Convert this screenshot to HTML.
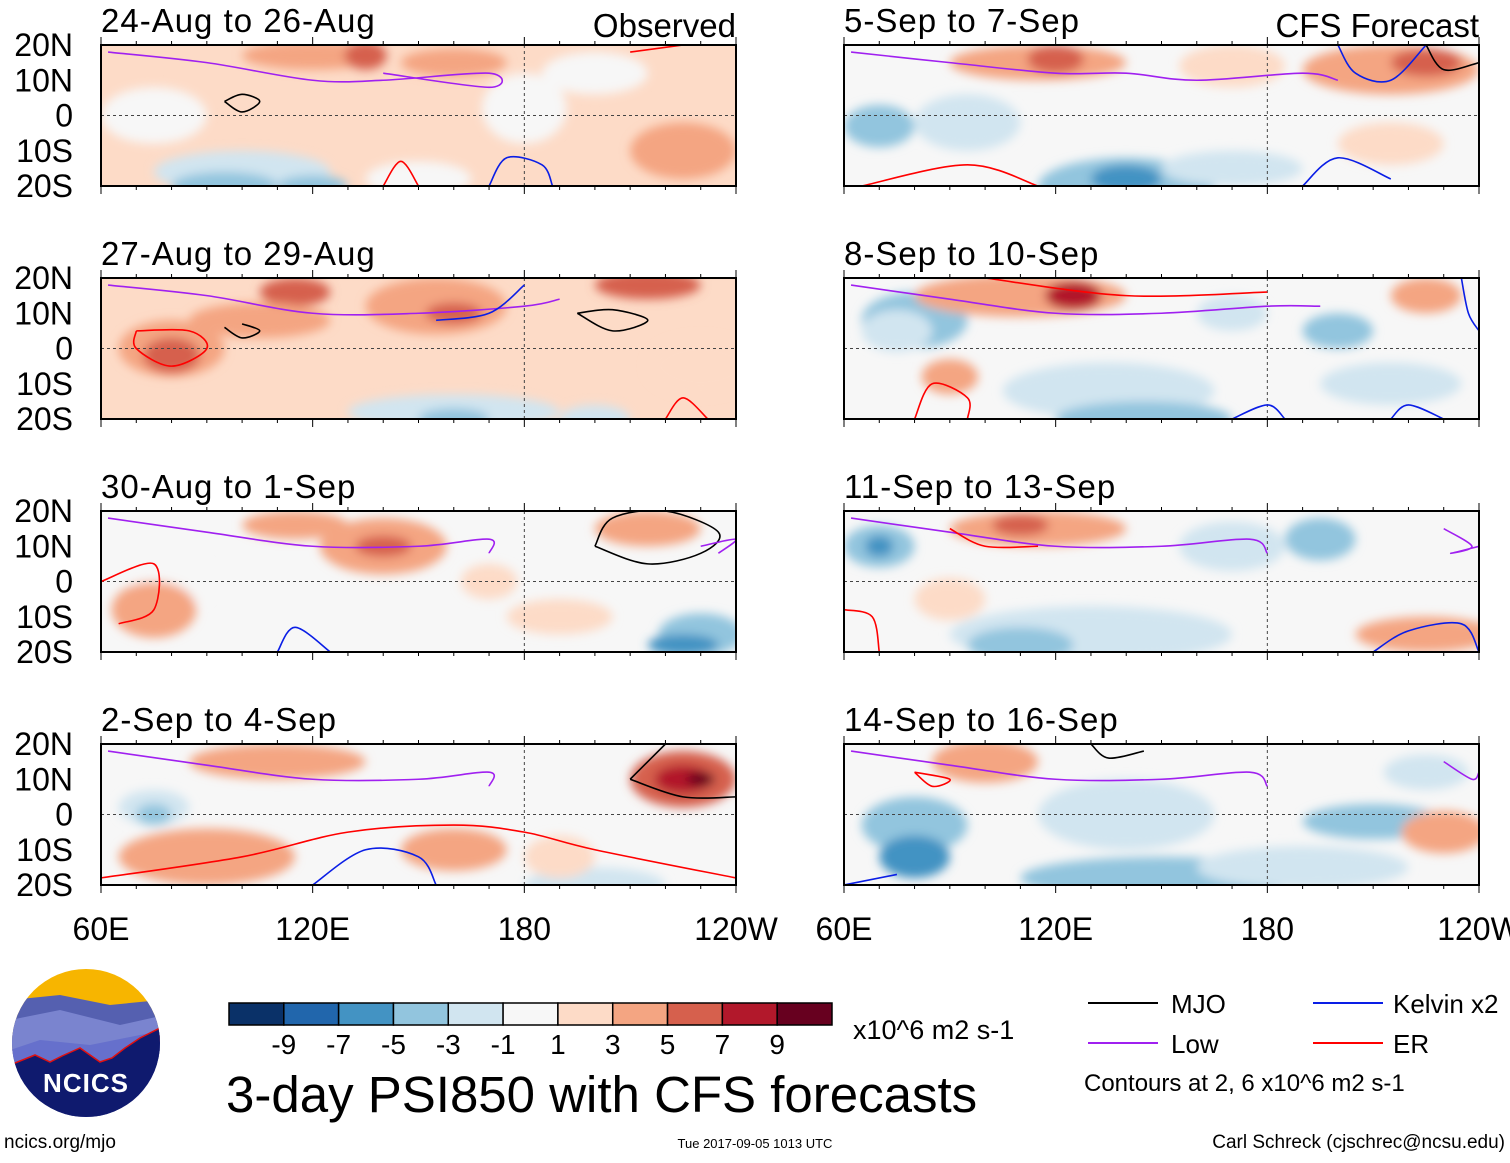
<!DOCTYPE html>
<html><head><meta charset="utf-8"><style>
body{margin:0;background:#fff;width:1510px;height:1158px;overflow:hidden;font-family:"Liberation Sans",sans-serif}
svg text{font-family:"Liberation Sans",sans-serif}
</style></head><body>
<svg id="root" width="1510" height="1158" viewBox="0 0 1510 1158" xmlns="http://www.w3.org/2000/svg">
<defs>
<filter id="blur" x="-50%" y="-50%" width="200%" height="200%"><feGaussianBlur stdDeviation="5"/></filter>
<clipPath id="logoClip"><circle cx="86" cy="1043" r="74"/></clipPath>
</defs>
<g id="panels"></g>
<g id="logo">
<g clip-path="url(#logoClip)">
<rect x="10" y="965" width="155" height="160" fill="#f7b500"/>
<path d="M10 1000 L60 995 L110 1005 L160 1000 L165 1125 L10 1125Z" fill="#5560b0"/>
<path d="M10 1020 L60 1010 L120 1025 L165 1015 L165 1125 L10 1125Z" fill="#7a84cf"/>
<path d="M10 1050 L40 1040 L90 1045 L165 1030 L165 1125 L10 1125Z" fill="#6670cc"/>
<path d="M10 1065 L35 1055 L50 1062 L62 1056 L80 1048 L100 1062 L112 1058 L125 1048 L140 1038 L160 1028 L165 1125 L10 1125Z" fill="#0f1a6e" stroke="#e01010" stroke-width="1.5"/>
</g>
<text x="86" y="1092" font-size="26" font-weight="bold" fill="#fff" text-anchor="middle" letter-spacing="1">NCICS</text>
</g>
<text x="4" y="1148" font-size="19">ncics.org/mjo</text>
<g id="colorbar"></g>
<text x="853" y="1039" font-size="27">x10^6 m2 s-1</text>
<text x="226" y="1112" font-size="51">3-day PSI850 with CFS forecasts</text>
<text x="755" y="1148" font-size="13" text-anchor="middle">Tue 2017-09-05 1013 UTC</text>
<text x="1505" y="1148" font-size="19" text-anchor="end">Carl Schreck (cjschrec@ncsu.edu)</text>
<g>
<line x1="1088" y1="1003" x2="1158" y2="1003" stroke="#000" stroke-width="2"/><text x="1171" y="1013" font-size="26">MJO</text>
<line x1="1313" y1="1003" x2="1383" y2="1003" stroke="#0a1ee6" stroke-width="2"/><text x="1393" y="1013" font-size="26">Kelvin x2</text>
<line x1="1088" y1="1043" x2="1158" y2="1043" stroke="#a020f0" stroke-width="2"/><text x="1171" y="1053" font-size="26">Low</text>
<line x1="1313" y1="1043" x2="1383" y2="1043" stroke="#f00" stroke-width="2"/><text x="1393" y="1053" font-size="26">ER</text>
<text x="1084" y="1091" font-size="24">Contours at 2, 6 x10^6 m2 s-1</text>
</g>
</svg>
<script>
const levels=[-9,-7,-5,-3,-1,1,3,5,7,9];
const colors=["#0a3168","#2166ac","#4393c3","#92c5de","#d1e5f0","#f7f7f7","#fddbc7","#f4a582","#d6604d","#b2182b","#67001f"];
const titles=["24-Aug to 26-Aug","5-Sep to 7-Sep","27-Aug to 29-Aug","8-Sep to 10-Sep","30-Aug to 1-Sep","11-Sep to 13-Sep","2-Sep to 4-Sep","14-Sep to 16-Sep"];
const latTicks=["20N","10N","0","10S","20S"];
const lonTicks=["60E","120E","180","120W"];
const baseLevel=[6,5,6,5,5,5,5,5];
// blobs: [lon, lat, rxDeg, ryDeg, colorIndex]
const blobs=[
[[75,0,15,8,5],[100,-16,25,6,4],[150,-18,15,5,5],[180,2,12,10,5],[200,12,15,6,5],[225,-10,15,8,7],[120,17,20,4,7],[135,17,6,4,8],[160,15,15,4,7],[95,-20,15,4,3],[120,-20,10,3,3]],
[[70,-3,10,6,3],[95,-2,15,8,4],[115,15,25,5,7],[120,16,8,4,8],[140,-20,25,8,3],[140,-18,10,4,2],[170,-15,20,5,4],[215,13,25,7,7],[225,15,10,4,8],[170,14,15,6,6],[215,-8,15,6,6]],
[[80,0,15,8,7],[80,-2,8,5,8],[115,16,10,4,8],[105,8,20,5,7],[155,12,20,8,7],[160,10,8,3,8],[215,18,15,4,8],[160,-18,30,5,4],[160,-20,10,3,3],[200,-20,10,4,4],[230,-5,15,8,6]],
[[80,8,15,8,3],[110,15,30,6,7],[125,15,8,4,9],[75,5,10,6,4],[135,-12,30,8,4],[145,-20,25,5,3],[90,-8,8,5,7],[170,10,10,5,4],[200,5,10,5,3],[225,15,10,5,7],[215,-10,20,6,4]],
[[80,0,12,8,5],[75,-8,12,8,7],[140,10,18,8,7],[140,10,8,3,8],[115,16,15,4,7],[215,15,15,5,7],[230,-15,12,6,3],[225,-18,10,3,2],[170,0,8,5,6],[190,-10,15,5,6]],
[[70,10,10,6,3],[70,10,4,3,2],[115,15,25,5,7],[110,16,8,3,8],[130,-15,40,8,4],[110,-18,15,5,3],[170,10,15,7,4],[195,12,10,6,3],[225,-15,20,5,7],[90,-5,10,6,6]],
[[75,2,10,5,4],[75,0,5,3,3],[110,15,25,5,7],[225,10,15,8,8],[225,10,8,4,9],[230,10,4,2,10],[90,-12,25,8,7],[160,-10,15,6,7],[200,-20,20,5,4],[190,-12,10,6,6]],
[[80,-3,15,8,3],[80,-12,10,6,2],[100,15,15,6,7],[150,-18,40,6,3],[140,0,25,10,4],[210,-2,20,5,3],[230,-5,12,6,7],[225,12,12,5,4],[190,-15,30,6,4]]
];
const contours=[
[["#a020f0",[[62,18],[90,15],[120,10],[140,10],[170,12],[170,8],[140,12]]],["#000",[[95,4],[100,1],[105,4],[100,6],[95,4]]],["#0a1ee6",[[170,-20],[175,-12],[185,-14],[188,-20]]],["#f00",[[140,-20],[145,-13],[150,-20]]],["#f00",[[210,18],[225,20]]]],
[["#a020f0",[[62,18],[90,15],[120,12],[140,12],[160,10],[190,12],[200,10]]],["#f00",[[65,-20],[95,-14],[115,-20]]],["#0a1ee6",[[190,-20],[200,-12],[215,-18]]],["#000",[[225,20],[230,13],[240,15]]],["#0a1ee6",[[200,20],[205,12],[215,10],[225,20]]]],
[["#a020f0",[[62,18],[90,15],[120,10],[150,10],[180,12],[190,14]]],["#f00",[[70,5],[85,5],[90,0],[80,-5],[70,0],[70,5]]],["#000",[[95,6],[100,3],[105,5],[100,7]]],["#000",[[195,10],[205,5],[215,8],[205,11],[195,10]]],["#0a1ee6",[[155,8],[170,10],[180,18]]],["#f00",[[220,-20],[225,-14],[232,-20]]]],
[["#a020f0",[[62,18],[90,14],[120,10],[150,10],[180,12],[195,12]]],["#f00",[[80,-20],[85,-10],[95,-14],[95,-20]]],["#f00",[[100,20],[140,15],[180,16]]],["#0a1ee6",[[170,-20],[180,-16],[185,-20]]],["#0a1ee6",[[215,-20],[220,-16],[230,-20]]],["#0a1ee6",[[235,20],[237,10],[240,5]]]],
[["#a020f0",[[62,18],[90,14],[120,10],[150,10],[170,12],[170,8]]],["#000",[[200,10],[205,18],[220,20],[235,14],[230,8],[215,5],[200,10]]],["#f00",[[60,0],[75,5],[75,-8],[65,-12]]],["#0a1ee6",[[110,-20],[115,-13],[125,-20]]],["#a020f0",[[230,10],[240,12],[235,8]]]],
[["#a020f0",[[62,18],[90,14],[120,10],[150,10],[175,12],[180,8]]],["#f00",[[90,15],[100,10],[115,10]]],["#f00",[[60,-8],[68,-10],[70,-20]]],["#0a1ee6",[[210,-20],[220,-14],[235,-12],[240,-20]]],["#a020f0",[[230,15],[238,10],[232,8],[240,10]]]],
[["#a020f0",[[62,18],[90,14],[120,10],[150,10],[170,12],[170,8]]],["#000",[[210,10],[220,20]]],["#000",[[210,10],[225,5],[240,5]]],["#0a1ee6",[[120,-20],[135,-10],[150,-12],[155,-20]]],["#f00",[[60,-18],[100,-12],[130,-5],[160,-3],[180,-5],[200,-10],[240,-18]]]],
[["#a020f0",[[62,18],[90,14],[120,10],[150,10],[175,12],[180,8]]],["#f00",[[80,12],[90,10],[85,8],[80,12]]],["#000",[[130,20],[135,16],[145,18]]],["#0a1ee6",[[60,-20],[75,-17]]],["#a020f0",[[230,15],[238,10],[240,12]]]]
];
const NS="http://www.w3.org/2000/svg";
const PW=635,PH=141;
const colX=[101,844], rowY=[45,278,511,744];
function el(t,a,p){const e=document.createElementNS(NS,t);for(const k in a)e.setAttribute(k,a[k]);p.appendChild(e);return e;}
function smooth(pts){
 if(pts.length<3)return 'M'+pts.map(p=>p.join(',')).join(' L');
 let d='M'+pts[0].join(',');
 for(let i=0;i<pts.length-1;i++){
  const p0=pts[Math.max(0,i-1)],p1=pts[i],p2=pts[i+1],p3=pts[Math.min(pts.length-1,i+2)];
  const c1=[p1[0]+(p2[0]-p0[0])/6,p1[1]+(p2[1]-p0[1])/6],c2=[p2[0]-(p3[0]-p1[0])/6,p2[1]-(p3[1]-p1[1])/6];
  d+=` C${c1.join(',')} ${c2.join(',')} ${p2.join(',')}`;
 }
 return d;
}
const panelsG=document.getElementById('panels');
for(let i=0;i<8;i++){
 const x0=colX[i%2], y0=rowY[Math.floor(i/2)];
 const xs=lon=>x0+(lon-60)/180*PW, ys=lat=>y0+(20-lat)/40*PH;
 const g=el('g',{},panelsG);
 
 
 const cid='clip'+i;
 const cp=el('clipPath',{id:cid},g); el('rect',{x:x0,y:y0,width:PW,height:PH},cp);
 const f=el('g',{'clip-path':`url(#${cid})`},g);
 el('rect',{x:x0,y:y0,width:PW,height:PH,fill:colors[baseLevel[i]]},f);
 const bg=el('g',{filter:'url(#blur)'},f);
 blobs[i].forEach(b=>{
  const e=el('ellipse',{cx:xs(b[0]),cy:ys(b[1]),rx:b[2]/180*PW,ry:b[3]/40*PH,fill:colors[b[4]]},bg);
  
  
 });
 el('line',{x1:x0,y1:ys(0),x2:x0+PW,y2:ys(0),stroke:'#444','stroke-dasharray':'3,3','stroke-width':1},f);
 el('line',{x1:xs(180),y1:y0,x2:xs(180),y2:y0+PH,stroke:'#444','stroke-dasharray':'3,3','stroke-width':1},f);
 contours[i].forEach(c=>{
  const p=el('path',{d:smooth(c[1].map(q=>[xs(q[0]),ys(q[1])])),fill:'none',stroke:c[0],'stroke-width':1.6},f);
  
  
 });
 el('rect',{x:x0,y:y0,width:PW,height:PH,fill:'none',stroke:'#000','stroke-width':2},g);
 for(let lon=60;lon<=240;lon+=10){const L=lon%60==0?8:4;el('line',{x1:xs(lon),y1:y0+PH,x2:xs(lon),y2:y0+PH+L,stroke:'#000'},g);el('line',{x1:xs(lon),y1:y0,x2:xs(lon),y2:y0-L,stroke:'#000'},g);}
 const t=el('text',{x:x0,y:y0-13,'font-size':33,'letter-spacing':'1'},g); t.textContent=titles[i];
 
 
 if(i%2==0){latTicks.forEach((s,k)=>{const tt=el('text',{x:73,y:y0+k*PH/4+11,'font-size':32,'text-anchor':'end'},g);tt.textContent=s;
  
  });}
 if(i==0){const o=el('text',{x:736,y:37,'font-size':33,'text-anchor':'end'},g);o.textContent='Observed';
  
  }
 if(i==1){const o=el('text',{x:1479,y:37,'font-size':33,'text-anchor':'end'},g);o.textContent='CFS Forecast';
  
  }
 if(i>=6){lonTicks.forEach((s,k)=>{const tt=el('text',{x:x0+k*PW/3,y:940,'font-size':32,'text-anchor':'middle'},g);tt.textContent=s;
  
  });}
}
const cb=document.getElementById('colorbar');
const cbx=229,cbw=603/11;
colors.forEach((c,k)=>{const r=el('rect',{x:cbx+k*cbw,y:1003,width:cbw,height:22,fill:c,stroke:'#000','stroke-width':1.5},cb);
 
 });
levels.forEach((v,k)=>{const t=el('text',{x:cbx+(k+1)*cbw,y:1054,'font-size':28,'text-anchor':'middle'},cb);t.textContent=String(v);
 
 });
</script>
</body></html>
